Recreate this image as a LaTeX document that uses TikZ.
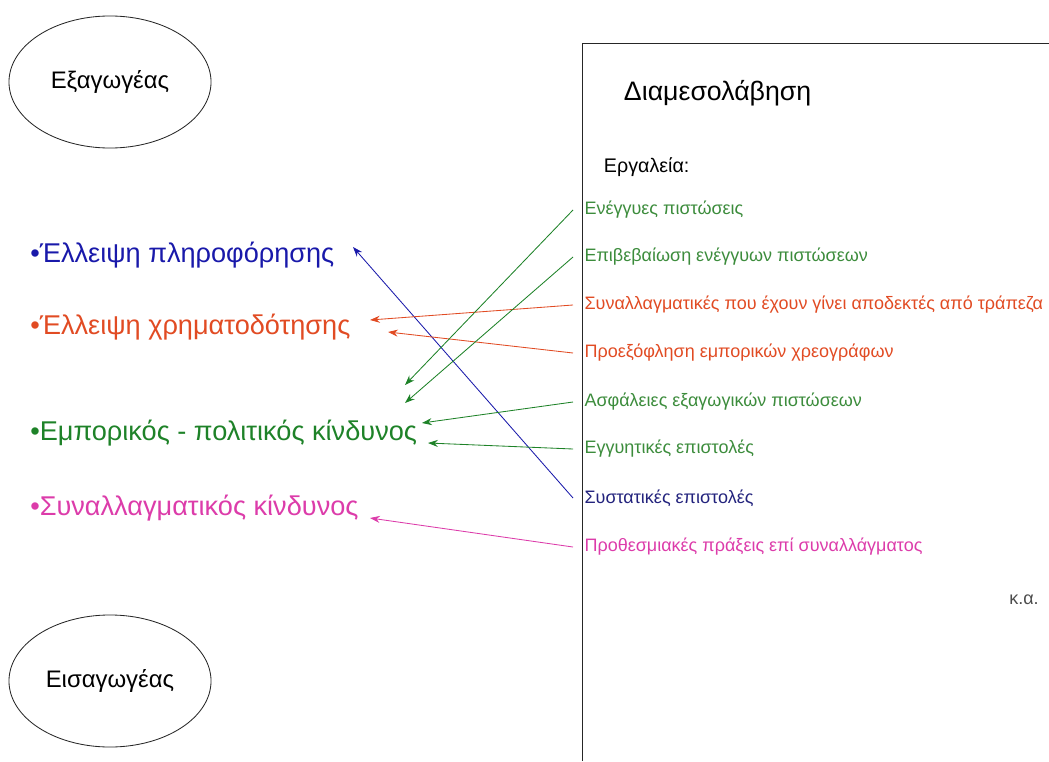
\documentclass[tikz,border=0pt]{standalone}
\usepackage{fontspec}
\setmainfont{Liberation Sans}
\usetikzlibrary{arrows.meta,shapes.geometric}

\definecolor{infoblue}{RGB}{25,25,170}
\definecolor{finred}{RGB}{225,75,35}
\definecolor{riskgreen}{RGB}{30,130,40}
\definecolor{toolgreen}{RGB}{60,140,60}
\definecolor{toolnavy}{RGB}{35,35,125}
\definecolor{fxpink}{RGB}{220,60,170}

\tikzset{
  party/.style={draw=black!85,line width=0.6pt,ellipse,minimum width=5.05cm,minimum height=3.3cm,font=\fontsize{17}{20}\selectfont},
  problem/.style={anchor=west,inner sep=0pt,font=\fontsize{19.3}{23}\selectfont},
  tool/.style={anchor=west,inner xsep=8pt,inner ysep=1pt,font=\fontsize{12.8}{15}\selectfont},
  link/.style={line width=0.6pt,-{Stealth[length=7pt,width=5pt]}}
}

\begin{document}
\begin{tikzpicture}[x=0.025cm,y=-0.025cm]
\useasboundingbox (0,0) rectangle (1049,761);

% exporter / importer
\node [party] (exporter) at (110,82) {Εξαγωγέας};
\node [party] (importer) at (110,681) {Εισαγωγέας};

% problems
\node [problem,text=infoblue] (info) at (30,255) {•Έλλειψη πληροφόρησης};
\node [problem,text=finred] (finance) at (30,327) {•Έλλειψη χρηματοδότησης};
\node [problem,text=riskgreen] (risk) at (30,433) {•Εμπορικός - πολιτικός κίνδυνος};
\node [problem,text=fxpink] (fx) at (30,508) {•Συναλλαγματικός κίνδυνος};

% mediation panel
\draw [line width=0.6pt,black!85] (582,761) |- (1049,43);
\node [anchor=west,font=\fontsize{19}{23}\selectfont] (mediation) at (619,93) {Διαμεσολάβηση};
\node [anchor=west,font=\fontsize{14}{17}\selectfont] (tools) at (599,167) {Εργαλεία:};

\node [tool,text=toolgreen] (lc) at (573,210) {Ενέγγυες πιστώσεις};
\node [tool,text=toolgreen] (conf) at (573,257) {Επιβεβαίωση ενέγγυων πιστώσεων};
\node [tool,text=finred] (bills) at (573,305) {Συναλλαγματικές που έχουν γίνει αποδεκτές από τράπεζα};
\node [tool,text=finred] (disc) at (573,353) {Προεξόφληση εμπορικών χρεογράφων};
\node [tool,text=toolgreen] (insur) at (573,402) {Ασφάλειες εξαγωγικών πιστώσεων};
\node [tool,text=toolgreen] (guar) at (573,449) {Εγγυητικές επιστολές};
\node [tool,text=toolnavy] (refs) at (573,498) {Συστατικές επιστολές};
\node [tool,text=fxpink] (fwd) at (573,547) {Προθεσμιακές πράξεις επί συναλλάγματος};
\node [text=black!70,font=\fontsize{12.8}{15}\selectfont] (etc) at (1024,600) {κ.α.};

% arrow ends
\coordinate (infoend) at (353,247);
\coordinate (finend1) at (370,320);
\coordinate (finend2) at (388,332);
\coordinate (gapend1) at (405,385);
\coordinate (gapend2) at (405,403);
\coordinate (riskend1) at (422,423);
\coordinate (riskend2) at (428,443);
\coordinate (fxend) at (370,518);

\draw [link,infoblue] (refs.west) -- (infoend);
\draw [link,finred] (bills.west) -- (finend1);
\draw [link,finred] (disc.west) -- (finend2);
\draw [link,riskgreen] (lc.west) -- (gapend1);
\draw [link,riskgreen] (conf.west) -- (gapend2);
\draw [link,riskgreen] (insur.west) -- (riskend1);
\draw [link,riskgreen] (guar.west) -- (riskend2);
\draw [link,fxpink] (fwd.west) -- (fxend);
\end{tikzpicture}
\end{document}
